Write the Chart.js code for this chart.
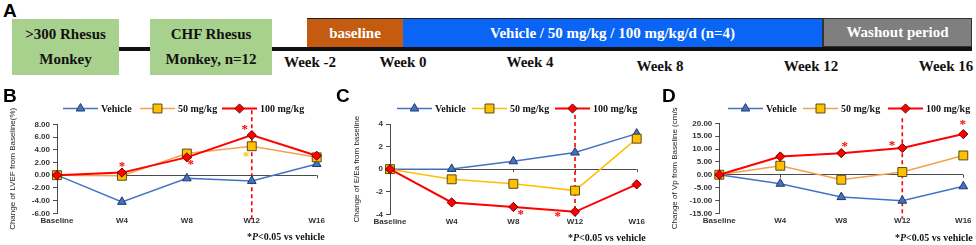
<!DOCTYPE html>
<html>
<head>
<meta charset="utf-8">
<script src="https://cdn.jsdelivr.net/npm/chart.js@4.4.0/dist/chart.umd.min.js"></script>
<style>
  body { margin: 0; width: 976px; height: 245px; background: #fff; position: relative; overflow: hidden;
         font-family: 'Liberation Serif', 'Times New Roman', serif; }
  canvas { position: absolute; }
  .letter { position: absolute; font: bold 19px 'Liberation Sans', Arial, sans-serif; line-height: 19px; color: #000; }
  .box { position: absolute; display: flex; align-items: center; justify-content: center; text-align: center;
         font-weight: bold; font-size: 15px; line-height: 25px; }
  .green { background: #a9d18e; color: #111; }
  .seg { position: absolute; top: 18px; height: 29px; display: flex; align-items: center; justify-content: center;
         color: #fff; font-weight: bold; font-size: 15px; box-sizing: border-box; border-top: 1px solid #222; }
  .week { position: absolute; font-weight: bold; font-size: 15px; line-height: 15px; transform: translateX(-50%);
          white-space: nowrap; color: #111; }
  .note { position: absolute; font-weight: bold; font-size: 10px; line-height: 10px; white-space: nowrap; color: #111; }
</style>
</head>
<body>

<!-- panel A: study timeline -->
<div class="letter" style="left:3px;top:1px">A</div>
<div style="position:absolute;left:119px;top:47px;width:853px;height:3.5px;background:#111"></div>
<div class="box green" style="left:12px;top:19px;width:107px;height:56px">&gt;300 Rhesus<br>Monkey</div>
<div class="box green" style="left:150px;top:19px;width:122px;height:56px">CHF Rhesus<br>Monkey, n=12</div>
<div class="seg" style="left:307px;width:96px;background:#c55a11">baseline</div>
<div class="seg" style="left:403px;width:420px;background:#0a64f5;border-right:1px solid #333">Vehicle / 50 mg/kg / 100 mg/kg/d (n=4)</div>
<div class="seg" style="left:823px;width:149px;background:#7f7f7f;border:1px solid #333">Washout period</div>
<div class="week" style="left:310px;top:55px">Week -2</div>
<div class="week" style="left:403px;top:55px">Week 0</div>
<div class="week" style="left:530px;top:55px">Week 4</div>
<div class="week" style="left:660px;top:59px">Week 8</div>
<div class="week" style="left:811px;top:59px">Week 12</div>
<div class="week" style="left:946px;top:59px">Week 16</div>

<!-- panels B, C, D -->
<canvas id="chartB" width="330" height="160" style="left:0px;top:85px"></canvas>
<canvas id="chartC" width="330" height="160" style="left:325px;top:85px"></canvas>
<canvas id="chartD" width="326" height="160" style="left:650px;top:85px"></canvas>
<div class="letter" style="left:3px;top:86px">B</div>
<div class="letter" style="left:336px;top:86px">C</div>
<div class="letter" style="left:662px;top:86px">D</div>
<div class="note" style="left:247px;top:232px">*<i>P</i>&lt;0.05 vs vehicle</div>
<div class="note" style="left:568px;top:233px">*<i>P</i>&lt;0.05 vs vehicle</div>
<div class="note" style="left:895px;top:233px">*<i>P</i>&lt;0.05 vs vehicle</div>

<script>
const weeks = ['Baseline', 'W4', 'W8', 'W12', 'W16'];
const groups = ['Vehicle', '50 mg/kg', '100 mg/kg'];

// B - change of LVEF from baseline (%)
const lvefVehicle = [0, -4.2, -0.5, -0.9, 1.75];
const lvef50 = [0, -0.1, 3.4, 4.55, 2.8];
const lvef100 = [0, 0.4, 2.8, 6.3, 3.05];
const lvefAxis = [-6, 8, 2];
// significance stars: [week index, value, shift in category widths, group]
const lvefStars = [[1, 1.7, 0, 2], [2, 2.0, 0.06, 2], [3, 7.45, -0.11, 2], [3, 3.25, -0.09, 1]];

// C - change of E/Ea from baseline
const eeaVehicle = [0, 0.02, 0.7, 1.47, 3.15];
const eea50 = [0, -0.9, -1.3, -1.9, 2.7];
const eea100 = [0, -2.95, -3.35, -3.78, -1.35];
const eeaAxis = [-4, 4, 2];
const eeaStars = [[2, -3.83, 0.12, 2], [3, -4.07, -0.28, 2]];

// D - change of Vp from baseline (cm/s)
const vpVehicle = [0, -3.5, -8.7, -10.1, -4.5];
const vp50 = [0, 3.5, -1.95, 1.05, 7.5];
const vp100 = [0, 7.1, 8.4, 10.4, 15.8];
const vpAxis = [-15, 20, 5];
const vpStars = [[2, 11.7, 0.055, 2], [3, 12.1, -0.17, 2], [4, 20.1, -0.01, 2]];

const markers = ['triangle', 'rect', 'rectRot'];
const markerSize = [5, 6.3, 4.6];
const fills = ['#4472c4', '#ffc000', '#ff0000'];
const edges = ['#1f3864', '#5a4a10', '#6b0000'];
const starColors = ['#4472c4', '#ffc000', '#ff0000'];
const axisColor = '#4a4a4a';

const extras = {
  id: 'extras',
  beforeDatasetsDraw(chart, args, o) {
    const {ctx, chartArea, scales: {x, y}} = chart;
    const y0 = y.getPixelForValue(0);
    ctx.save();
    ctx.strokeStyle = axisColor;
    ctx.lineWidth = 1;
    for (let i = 1; i < weeks.length; i++) {
      const px = Math.round(x.getPixelForValue(i)) + 0.5;
      ctx.beginPath(); ctx.moveTo(px, y0); ctx.lineTo(px, y0 + 3); ctx.stroke();
    }
    const xm = x.getPixelForValue(3);
    ctx.strokeStyle = '#ff0000';
    ctx.lineWidth = 1.6;
    ctx.setLineDash([4, 3]);
    ctx.beginPath();
    ctx.moveTo(xm, chartArea.top - o.dash[0]);
    ctx.lineTo(xm, chartArea.bottom + o.dash[1]);
    ctx.stroke();
    ctx.restore();
  },
  afterDraw(chart, args, o) {
    const {ctx, scales: {x, y}} = chart;
    const step = x.getPixelForValue(1) - x.getPixelForValue(0);
    ctx.save();
    ctx.font = 'bold 13px "Liberation Serif", serif';
    ctx.textAlign = 'center';
    ctx.textBaseline = 'middle';
    o.stars.forEach(([i, v, shift, g]) => {
      ctx.fillStyle = starColors[g];
      ctx.fillText('*', x.getPixelForValue(i) + shift * step, y.getPixelForValue(v) + 2);
    });
    // legend: line with marker, then label
    ctx.font = 'bold 10px "Liberation Serif", serif';
    ctx.textAlign = 'left';
    chart.data.datasets.forEach((d, i) => {
      const x1 = o.legendX[i], x2 = x1 + 35, ly = o.legendY;
      ctx.strokeStyle = d.borderColor;
      ctx.lineWidth = d.borderWidth;
      ctx.beginPath(); ctx.moveTo(x1, ly); ctx.lineTo(x2, ly); ctx.stroke();
      ctx.fillStyle = d.pointBackgroundColor;
      ctx.strokeStyle = d.pointBorderColor;
      ctx.lineWidth = 1;
      Chart.helpers.drawPoint(ctx, {pointStyle: d.pointStyle, radius: d.pointRadius, borderWidth: 1, rotation: 0}, (x1 + x2) / 2, ly);
      ctx.fillStyle = '#111';
      ctx.fillText(d.label, x2 + 3, ly + 0.5);
    });
    ctx.restore();
  }
};

function panel(id, cfg) {
  const datasets = cfg.series.map((vals, i) => ({
    label: groups[i],
    data: vals,
    order: 2 - i,
    borderColor: cfg.lineColors[i],
    borderWidth: i === 2 ? 2 : 1.5,
    pointStyle: markers[i],
    pointRadius: markerSize[i],
    pointBackgroundColor: fills[i],
    pointBorderColor: edges[i],
    pointBorderWidth: 1,
    tension: 0,
    clip: false
  }));
  return new Chart(document.getElementById(id), {
    type: 'line',
    data: { labels: weeks, datasets: datasets },
    options: {
      responsive: false,
      animation: false,
      events: [],
      layout: { padding: cfg.pad },
      plugins: {
        legend: { display: false },
        tooltip: { enabled: false },
        extras: { stars: cfg.stars, dash: cfg.dash, legendX: cfg.legendX, legendY: 23.5 }
      },
      scales: {
        x: {
          offset: false,
          grid: { display: false, drawTicks: false },
          border: { display: false },
          ticks: { color: '#333', padding: 3, maxRotation: 0, autoSkip: false,
                   font: { family: "'Liberation Sans', Arial, sans-serif", size: 8, weight: 'bold' } },
          afterFit: s => { s.height = 20; }
        },
        y: {
          min: cfg.axis[0], max: cfg.axis[1],
          ticks: { stepSize: cfg.axis[2], color: '#333', padding: 3,
                   callback: v => v.toFixed(cfg.decimals),
                   font: { family: "'Liberation Sans Narrow', 'Liberation Sans', Arial, sans-serif", size: 8, weight: 'bold' } },
          grid: { color: c => c.tick && c.tick.value === 0 ? axisColor : 'rgba(0,0,0,0)',
                  tickColor: axisColor, tickLength: 4, lineWidth: 1 },
          border: { display: true, color: axisColor, width: 1 },
          title: { display: true, text: cfg.title, color: '#222', padding: { top: cfg.titlePad, bottom: 0 },
                   font: { family: "'Liberation Sans Narrow', 'Liberation Sans', Arial, sans-serif", size: 8 } },
          afterFit: s => { s.width = cfg.yWidth; }
        }
      }
    },
    plugins: [extras]
  });
}

panel('chartB', {
  series: [lvefVehicle, lvef50, lvef100],
  lineColors: ['#4472c4', '#f5a04e', '#ff0000'],
  axis: lvefAxis, decimals: 2, stars: lvefStars,
  title: 'Change of LVEF from Baseline(%)', titlePad: 8.2,
  yWidth: 57, pad: { left: 0, top: 39.3, right: 13.3, bottom: 11.7 },
  dash: [14, 7], legendX: [63, 140, 222]
});

panel('chartC', {
  series: [eeaVehicle, eea50, eea100],
  lineColors: ['#4472c4', '#ffc000', '#ff0000'],
  axis: eeaAxis, decimals: 0, stars: eeaStars,
  title: 'Change of E/Ea from baseline', titlePad: 27.2,
  yWidth: 65, pad: { left: 0, top: 39, right: 18.3, bottom: 10.7 },
  dash: [9, 2], legendX: [72, 147, 230]
});

panel('chartD', {
  series: [vpVehicle, vp50, vp100],
  lineColors: ['#4472c4', '#f5a04e', '#ff0000'],
  axis: vpAxis, decimals: 2, stars: vpStars,
  title: 'Change of Vp from Baseline (cm/s', titlePad: 20.2,
  yWidth: 69.3, pad: { left: 0, top: 38.3, right: 12.7, bottom: 11.7 },
  dash: [5, 5], legendX: [78, 153, 238]
});
</script>
</body>
</html>
